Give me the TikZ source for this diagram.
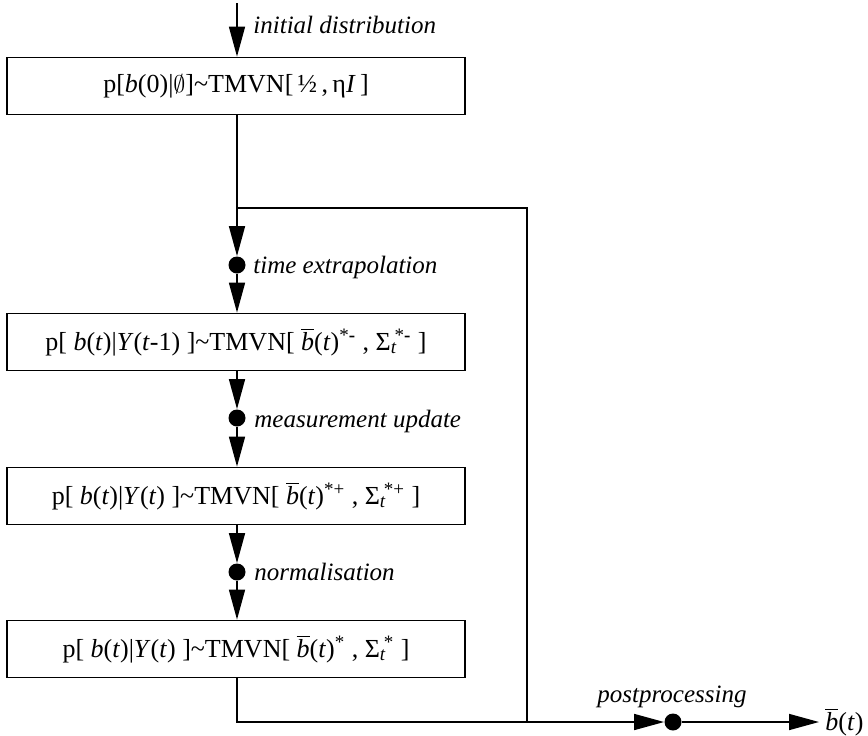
\documentclass[tikz,border=0pt]{standalone}
\usepackage{fontspec}
\setmainfont{Liberation Serif}
\usetikzlibrary{arrows.meta}

% small size for super- and subscripts
\newcommand\supsz{\fontsize{9.5}{10}\selectfont}
% b with a bar, and the covariance symbol with its indices
\newcommand\bbar{$\overline{\hbox{\itshape b}}$}
\newcommand\sigt[1]{$\hbox{Σ}_{\hbox{\supsz\itshape t}}\kern-1.2pt{}^{\hbox{\supsz #1}}$}
\newcommand\bsup[1]{\bbar(\textit{t})$^{\hbox{\supsz #1}}$}
\newcommand\dsh{\textbf{-}}

\begin{document}
\begin{tikzpicture}[x=0.5pt,y=-0.5pt,
  every node/.style={font=\fontsize{13}{15}\selectfont},
  statebox/.style={draw, line width=0.9pt, minimum width=229pt,
    minimum height=28.5pt, inner sep=0pt},
  flow/.style={line width=0.8pt},
  tip/.style={-{Triangle[length=15pt,width=8pt]}},
  junc/.style={circle, fill, inner sep=0pt, minimum size=8.5pt},
  lab/.style={font=\fontsize{12.5}{15}\selectfont\itshape, inner sep=0pt}
]
\useasboundingbox (0,0) rectangle (868,735);

% the four distributions
\node[statebox] (init) at (236,86)
  {p[\textit{b}(0)|$\emptyset$]\textasciitilde TMVN[\,½\,,\,η\textit{I}\,]};
\node[statebox] (prior) at (236,342)
  {p[ \textit{b}(\textit{t})|\textit{Y}(\textit{t}-1) ]\textasciitilde TMVN[ \bsup{*\dsh} , \sigt{*\dsh} ]};
\node[statebox] (upd) at (236,496)
  {p[ \textit{b}(\textit{t})|\textit{Y}(\textit{t}) ]\textasciitilde TMVN[ \bsup{*+} , \sigt{*+} ]};
\node[statebox] (post) at (236,649)
  {p[ \textit{b}(\textit{t})|\textit{Y}(\textit{t}) ]\textasciitilde TMVN[ \bsup{*} , \sigt{*} ]};

% processing steps
\node[junc] (d1) at (237,265) {};
\node[junc] (d2) at (237,418) {};
\node[junc] (d3) at (237,572) {};
\node[junc] (d4) at (673,722) {};

\node[lab, anchor=base west] (l0) at (253,33) {initial distribution};
\node[lab, anchor=base west] (l1) at (253,273) {time extrapolation};
\node[lab, anchor=base west] (l2) at (254,427) {measurement update};
\node[lab, anchor=base west] (l3) at (254,580) {normalisation};
\node[lab, anchor=base] (l4) at (672,702) {postprocessing};
\node[lab, anchor=base west, font=\fontsize{13}{15}\selectfont] (res) at (825,730)
  {\bbar(\textit{t})};

% routing points
\coordinate (start) at (237,3);
\coordinate (loop) at (237,208);
\coordinate (loopr) at (527,208);
\coordinate (outr) at (527,722);

% connectors
\draw[flow,tip] (start) -- (init.north -| start);
\draw[flow] (init.south -| start) -- (loop);
\draw[flow,tip] (loop) -- (d1.north);
\draw[flow,tip] (d1.south) -- (prior.north -| d1);
\draw[flow,tip] (prior.south -| d2) -- (d2.north);
\draw[flow,tip] (d2.south) -- (upd.north -| d2);
\draw[flow,tip] (upd.south -| d3) -- (d3.north);
\draw[flow,tip] (d3.south) -- (post.north -| d3);
\draw[flow] (post.south -| d3) |- (outr) -- (loopr) -- (loop);
\draw[flow,tip] (outr) -- (d4.west);
\draw[flow,tip,shorten >=3pt] (d4.east) -- (res.west |- d4);
\end{tikzpicture}
\end{document}
